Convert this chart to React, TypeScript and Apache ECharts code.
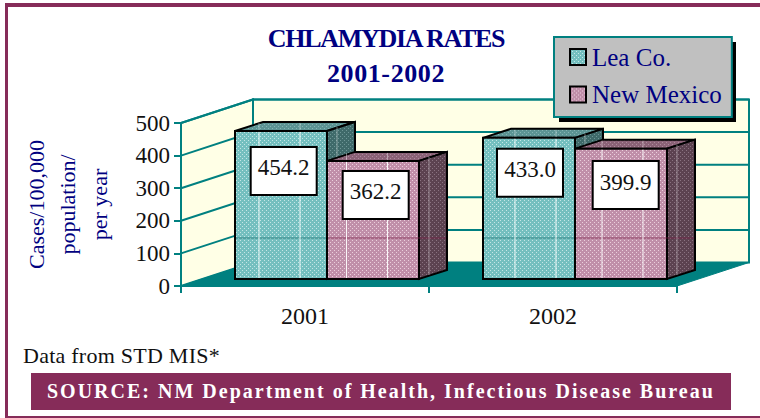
import React, { useEffect, useRef } from "react";
import * as echarts from "echarts";

const categories = ["2001", "2002"];
const leaValues = [454.2, 433.0];
const nmValues = [362.2, 399.9];
const yTicks = [0, 100, 200, 300, 400, 500];
const seriesNames = ["Lea Co.", "New Mexico"];
const titleLine1 = "CHLAMYDIA RATES";
const titleLine2 = "2001-2002";
const yName = "Cases/100,000\npopulation/\nper year";
const dataNote = "Data from STD MIS*";
const sourceNote = "SOURCE: NM Department of Health, Infectious Disease Bureau";

const SERIF = '"Liberation Serif", serif';
const TEAL = "#008080";
const NAVY = "#000080";
const MAROON = "#862C59";
const WALL = "#FFFFE6";
const WALL_DX = 72;
const WALL_DY = 23.5;
const BAR_W = 92;
const BAR_DX = 28;
const BAR_DY = 9;
const BASE_LIFT = 7;

function dots(base: string, dot: string) {
  const c = document.createElement("canvas");
  c.width = 4;
  c.height = 4;
  const g = c.getContext("2d")!;
  g.fillStyle = base;
  g.fillRect(0, 0, 4, 4);
  g.fillStyle = dot;
  g.fillRect(0, 0, 1, 1);
  g.fillRect(2, 2, 1, 1);
  return { type: "pattern", image: c, repeat: "repeat", imageWidth: 4, imageHeight: 4 } as any;
}

export default function App() {
  const ref = useRef<HTMLDivElement>(null);
  useEffect(() => {
    const chart = echarts.init(ref.current!, undefined, { renderer: "svg" });

    const themes = [
      {
        front: dots("#74BFBF", "#C4E6E6"),
        top: dots("#5C9494", "#86B4B4"),
        side: dots("#3F6A6A", "#6E9696"),
        hLine: "rgba(20,110,110,0.7)",
      },
      {
        front: dots("#C08FA9", "#EBCFDC"),
        top: dots("#8B6277", "#AD8A9C"),
        side: dots("#5C4250", "#8A7280"),
        hLine: "rgba(120,30,70,0.7)",
      },
    ];
    // Placement of the bars and their value boxes around each category centre.
    const barStart = [-70, 22];
    const hairlines = [
      [[-46, -5], [41.5, 82.5]],
      [[-38, 3], [49, 90]],
    ];
    const boxOffset = [
      [[15.7, 16], [15.7, 10]],
      [[14, 11], [17.7, 12.4]],
    ];

    const barRender = (s: number) => (params: any, api: any) => {
      const cat = api.value(0);
      const val = api.value(1);
      const t = themes[s];
      const c = api.coord([cat, 0]);
      const tp = api.coord([cat, val]);
      const l = c[0] + barStart[s];
      const r = l + BAR_W;
      const b = c[1] - BASE_LIFT;
      const y = tp[1] - BASE_LIFT;
      const stroke = { stroke: "#000", lineWidth: 2, lineJoin: "miter" };
      const children: any[] = [
        {
          type: "polygon",
          shape: { points: [[l, y], [l + BAR_DX, y - BAR_DY], [r + BAR_DX, y - BAR_DY], [r, y]] },
          style: { fill: t.top, ...stroke },
        },
        {
          type: "polygon",
          shape: { points: [[r, y], [r + BAR_DX, y - BAR_DY], [r + BAR_DX, b - BAR_DY], [r, b]] },
          style: { fill: t.side, ...stroke },
        },
        {
          type: "rect",
          shape: { x: l, y, width: BAR_W, height: b - y },
          style: { fill: t.front, ...stroke },
        },
      ];
      const yH = b - 41;
      children.push({
        type: "polyline",
        shape: { points: [[l + 1, yH], [r + BAR_DX - 1, yH]] },
        style: { fill: "none", stroke: t.hLine, lineWidth: 1 },
      });
      hairlines[cat][s].forEach((dx: number) => {
        const x = c[0] + dx;
        children.push({
          type: "line",
          shape: { x1: x, y1: y + 1, x2: x, y2: b - 1 },
          style: { stroke: "#fff", lineWidth: 1, opacity: 0.9 },
        });
        children.push({
          type: "line",
          shape: { x1: x, y1: y - 8, x2: x, y2: y - 1 },
          style: { stroke: "#fff", lineWidth: 1, opacity: 0.4 },
        });
      });
      const sx = r + 10;
      children.push({
        type: "line",
        shape: { x1: sx, y1: y - 4, x2: sx, y2: b - 4 },
        style: { stroke: "#fff", lineWidth: 1, opacity: 0.4 },
      });
      const [ox, oy] = boxOffset[cat][s];
      const bx = l + ox;
      const by = y + oy;
      children.push({
        type: "rect",
        shape: { x: bx, y: by, width: 66, height: 48 },
        style: { fill: "#fff", ...stroke },
      });
      children.push({
        type: "text",
        x: bx + 33,
        y: by + 21,
        style: {
          text: val.toFixed(1),
          fill: "#111",
          font: `23px ${SERIF}`,
          textAlign: "center",
          textVerticalAlign: "middle",
        },
      });
      return { type: "group", children };
    };

    const wallRender = (params: any, api: any) => {
      const c0 = api.coord([0, 0]);
      const c1 = api.coord([1, 0]);
      const band = c1[0] - c0[0];
      const x0 = c0[0] - band / 2;
      const x1 = c1[0] + band / 2;
      const y0 = c0[1];
      const yTop = api.coord([0, yTicks[yTicks.length - 1]])[1];
      const line = { stroke: TEAL, lineWidth: 2 };
      return {
        type: "group",
        children: [
          {
            type: "polygon",
            shape: { points: [[x0, y0], [x0 + WALL_DX, y0 - WALL_DY], [x0 + WALL_DX, yTop - WALL_DY], [x0, yTop]] },
            style: { fill: WALL, ...line },
          },
          {
            type: "rect",
            shape: { x: x0 + WALL_DX, y: yTop - WALL_DY, width: x1 - x0, height: y0 - yTop },
            style: { fill: WALL, ...line },
          },
          {
            type: "polygon",
            shape: { points: [[x0, y0], [x0 + WALL_DX, y0 - WALL_DY], [x1 + WALL_DX, y0 - WALL_DY], [x1, y0]] },
            style: { fill: TEAL, stroke: TEAL, lineWidth: 1 },
          },
        ],
      };
    };

    const gridRender = (params: any, api: any) => {
      const v = api.value(0);
      if (v === 0) return { type: "group", children: [] };
      const c0 = api.coord([0, v]);
      const band = api.coord([1, v])[0] - c0[0];
      const x0 = c0[0] - band / 2;
      const x1 = x0 + 2 * band;
      const y = c0[1];
      return {
        type: "polyline",
        shape: { points: [[x0, y], [x0 + WALL_DX, y - WALL_DY], [x1 + WALL_DX, y - WALL_DY]] },
        style: { fill: "none", stroke: TEAL, lineWidth: 2 },
      };
    };

    chart.setOption({
      animation: false,
      backgroundColor: "#fff",
      title: {
        text: titleLine1,
        subtext: titleLine2,
        left: 386,
        top: 25,
        textAlign: "center",
        padding: 0,
        itemGap: 9,
        textStyle: { fontFamily: SERIF, fontSize: 26, fontWeight: "bold", color: NAVY },
        subtextStyle: { fontFamily: SERIF, fontSize: 26, fontWeight: "bold", color: NAVY },
      },
      legend: {
        data: seriesNames.map((name) => ({ name, icon: "rect" })),
        orient: "vertical",
        left: 554,
        top: 37,
        padding: [7.5, 10, 10, 15],
        itemGap: 12.5,
        itemWidth: 16,
        itemHeight: 16,
        selectedMode: false,
        backgroundColor: "#C0C0C0",
        borderColor: TEAL,
        borderWidth: 2,
        textStyle: { fontFamily: SERIF, fontSize: 25, color: NAVY, padding: [0, 0, 0, 1] },
        z: 6,
      },
      grid: { left: 181, right: 83, top: 123, bottom: 132, containLabel: false, outerBoundsMode: "none" },
      xAxis: {
        type: "category",
        data: categories,
        boundaryGap: true,
        axisLine: { lineStyle: { color: TEAL, width: 2 } },
        axisTick: { show: true, length: 7, alignWithLabel: false, lineStyle: { color: TEAL, width: 2 } },
        axisLabel: { fontFamily: SERIF, fontSize: 24, color: "#111", margin: 18 },
      },
      yAxis: {
        type: "value",
        min: 0,
        max: 500,
        interval: 100,
        splitLine: { show: false },
        axisLine: { show: true, lineStyle: { color: TEAL, width: 2 } },
        axisTick: { show: true, length: 7, lineStyle: { color: TEAL, width: 2 } },
        axisLabel: { fontFamily: SERIF, fontSize: 23, color: "#111", margin: 11 },
        name: yName,
        nameLocation: "middle",
        nameRotate: 90,
        nameGap: 66,
        nameTextStyle: { fontFamily: SERIF, fontSize: 22, color: NAVY, lineHeight: 31.5 },
      },
      series: [
        { type: "custom", silent: true, clip: false, renderItem: wallRender, data: [[0]], encode: { y: 0 }, z: 1 },
        {
          type: "custom",
          silent: true,
          clip: false,
          renderItem: gridRender,
          data: yTicks.map((v) => [v]),
          encode: { y: 0 },
          z: 1,
        },
        {
          type: "custom",
          name: seriesNames[0],
          silent: true,
          clip: false,
          renderItem: barRender(0),
          data: categories.map((_, i) => [i, leaValues[i]]),
          encode: { x: 0, y: 1 },
          itemStyle: { color: themes[0].front, borderColor: "#000", borderWidth: 2 },
          z: 3,
        },
        {
          type: "custom",
          name: seriesNames[1],
          silent: true,
          clip: false,
          renderItem: barRender(1),
          data: categories.map((_, i) => [i, nmValues[i]]),
          encode: { x: 0, y: 1 },
          itemStyle: { color: themes[1].front, borderColor: "#000", borderWidth: 2 },
          z: 3,
        },
      ],
      graphic: [
        { type: "rect", z: 0, shape: { x: 5, y: 3, width: 755, height: 4 }, style: { fill: MAROON } },
        { type: "rect", z: 0, shape: { x: 5, y: 3, width: 3, height: 415 }, style: { fill: MAROON } },
        { type: "rect", z: 0, shape: { x: 5, y: 416, width: 755, height: 2 }, style: { fill: MAROON } },
        { type: "rect", z: 5, shape: { x: 559, y: 42, width: 177, height: 80 }, style: { fill: "#000" } },
        {
          type: "text",
          z: 5,
          x: 23,
          y: 355,
          style: { text: dataNote, fill: "#111", font: `22px ${SERIF}`, textVerticalAlign: "middle" },
        },
        { type: "rect", z: 5, shape: { x: 31, y: 373, width: 700, height: 37 }, style: { fill: MAROON } },
        {
          type: "text",
          z: 6,
          x: 47,
          y: 391,
          style: { text: sourceNote, fill: "#fff", font: `bold 20px ${SERIF}`, textVerticalAlign: "middle" },
        },
      ],
    });

    const spacing: Record<string, string> = {
      [titleLine1]: "-1.3",
      [titleLine2]: "0.6",
      [dataNote]: "0.25",
      [sourceNote]: "2.0",
    };
    ref.current!.querySelectorAll("text").forEach((el) => {
      const ls = spacing[el.textContent || ""];
      if (ls) el.setAttribute("letter-spacing", ls);
    });

    return () => chart.dispose();
  }, []);
  return <div ref={ref} style={{ position: "fixed", left: 0, top: 0, width: 760, height: 418 }} />;
}
